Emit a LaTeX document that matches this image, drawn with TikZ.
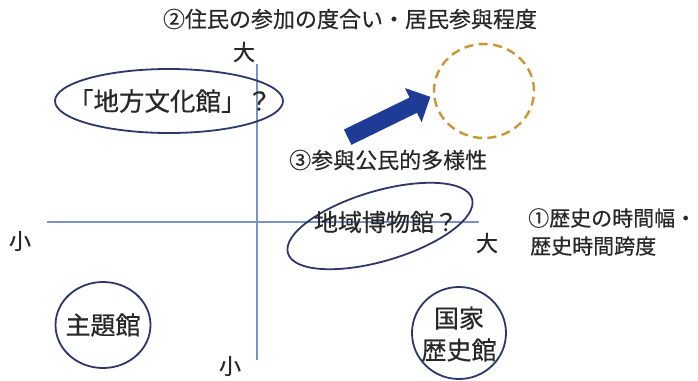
\documentclass[tikz,border=0pt]{standalone}
\usepackage{fontspec}
\setmainfont[BoldFont={Noto Sans CJK JP},BoldFeatures={FakeBold=0.5}]{Noto Sans CJK JP}
\usetikzlibrary{shapes.geometric}
\definecolor{axisc}{RGB}{125,145,195}
\definecolor{ringc}{RGB}{45,55,105}
\definecolor{arrowc}{RGB}{30,60,150}
\definecolor{goldc}{RGB}{200,150,55}
\definecolor{inkc}{RGB}{40,40,40}
\begin{document}
\begin{tikzpicture}[x=1pt,y=-1pt,
  lbl/.style={text=inkc,inner sep=0pt,font=\bfseries\fontsize{22}{26}\selectfont},
  big/.style={text=inkc,inner sep=0pt,font=\bfseries\fontsize{25}{32}\selectfont,align=center},
  ringst/.style={draw=ringc,line width=1.8pt,ellipse,inner sep=0pt},
  axisline/.style={draw=axisc,line width=1.1pt}]
\useasboundingbox[fill=white] (0,0) rectangle (698,380);
% axes
\coordinate (hl) at (47,222);
\coordinate (hr) at (479,222);
\coordinate (vt) at (257,64);
\coordinate (vb) at (257,360);
\draw[axisline] (hl) -- (hr);
\draw[axisline] (vt) -- (vb);
% axis labels
\node[lbl] (title) at (350,19) {②住民の参加の度合い・居民参與程度};
\node[lbl] (ytop) at (244,52) {大};
\node[lbl] (ybot) at (230,366) {小};
\node[lbl] (xleft) at (20,241) {小};
\node[lbl] (xright) at (487,243) {大};
\node[lbl,anchor=west,font=\bfseries\fontsize{21}{26}\selectfont] (xt1) at (528,218) {①歴史の時間幅・};
\node[lbl,anchor=west,font=\bfseries\fontsize{21}{26}\selectfont] (xt2) at (530,246) {歴史時間跨度};
\node[lbl,anchor=west] (third) at (289,160) {③参與公民的多様性};
% ellipses
\node[ringst,minimum width=228pt,minimum height=64pt] (chiho) at (169,101) {};
\node[big,font=\bfseries\fontsize{25.5}{32}\selectfont] (chihotxt) at (170,101) {「地方文化館」？};
\node[ringst,minimum width=192pt,minimum height=70pt,rotate=16.5] (museum) at (380,226) {};
\node[big,font=\bfseries\fontsize{24}{32}\selectfont] (museumtxt) at (386,222) {地域博物館？};
\node[ringst,minimum width=95pt,minimum height=86pt] (shudai) at (103,325) {};
\node[big] (shudaitxt) at (103,325) {主題館};
\node[ringst,minimum width=94pt,minimum height=92pt] (kokka) at (459,333) {};
\node[big] (kokkatxt) at (459,334) {国家\\歴史館};
% dashed target
\node[ellipse,draw=goldc,line width=2.4pt,dash pattern=on 9pt off 5.5pt,minimum width=100pt,minimum height=94pt] (target) at (484,91) {};
% block arrow
\begin{scope}[shift={(389,117)},rotate=26]
\fill[arrowc] (-46,-8.5) -- (27,-8.5) -- (27,-19) -- (46,0) -- (27,19) -- (27,8.5) -- (-46,8.5) -- cycle;
\end{scope}
\end{tikzpicture}
\end{document}
